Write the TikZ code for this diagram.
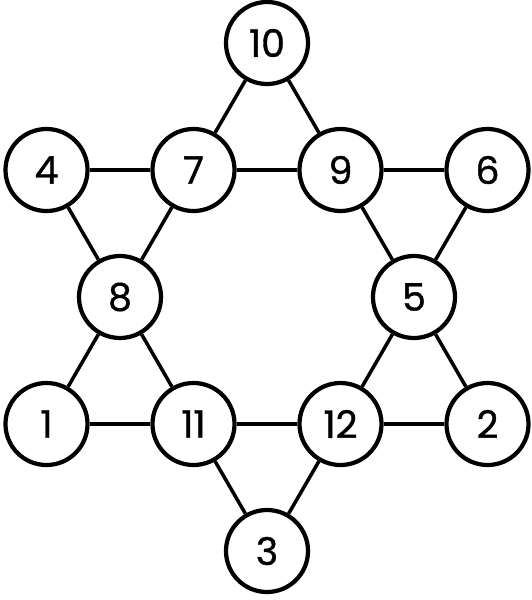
\documentclass[tikz,border=0pt]{standalone}
\usepackage{fontspec}
\newfontfamily\digitfont{Poppins}[FakeBold=1]
\usepackage{tikz}

\begin{document}
\begin{tikzpicture}
[x=0.025cm,y=-0.025cm,
disc/.style={circle,draw=black,line width=3pt,fill=white,minimum size=2.05cm,inner sep=0pt,font=\digitfont\fontsize{27}{27}\selectfont},
link/.style={-,draw=black,line width=2.5pt}]
\useasboundingbox (0,0) rectangle (532,600);

\node at (267,43)    [disc] (ten)    {10};
\node at (46.5,170)  [disc] (four)   {4};
\node at (193.5,170) [disc] (seven)  {7};
\node at (340.5,170) [disc] (nine)   {9};
\node at (487.5,170) [disc] (six)    {6};
\node at (120,297)   [disc] (eight)  {8};
\node at (414,297)   [disc] (five)   {5};
\node at (46.5,424)  [disc] (one)    {1};
\node at (193.5,424) [disc] (eleven) {11};
\node at (340.5,424) [disc] (twelve) {12};
\node at (487.5,424) [disc] (two)    {2};
\node at (267,551)   [disc] (three)  {3};

% upward triangle
\draw [link] (ten) to (seven);
\draw [link] (seven) to (eight);
\draw [link] (eight) to (one);
\draw [link] (one) to (eleven);
\draw [link] (eleven) to (twelve);
\draw [link] (twelve) to (two);
\draw [link] (two) to (five);
\draw [link] (five) to (nine);
\draw [link] (nine) to (ten);
% downward triangle
\draw [link] (four) to (seven);
\draw [link] (seven) to (nine);
\draw [link] (nine) to (six);
\draw [link] (six) to (five);
\draw [link] (five) to (twelve);
\draw [link] (twelve) to (three);
\draw [link] (three) to (eleven);
\draw [link] (eleven) to (eight);
\draw [link] (eight) to (four);
\end{tikzpicture}
\end{document}
